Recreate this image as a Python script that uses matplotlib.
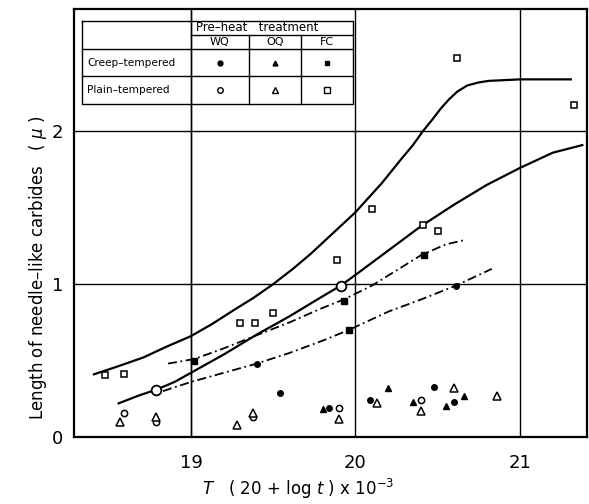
import matplotlib.pyplot as plt

# measured points, x = T(20+log t)x10^-3, y = length (micron)
creep_wq_x = [19.40, 19.54, 19.84, 20.09, 20.48, 20.60, 20.61]
creep_wq_y = [0.48, 0.29, 0.19, 0.24, 0.33, 0.23, 0.99]
creep_oq_x = [19.80, 20.20, 20.35, 20.55, 20.66]
creep_oq_y = [0.18, 0.32, 0.23, 0.20, 0.27]
creep_fc_x = [19.02, 19.93, 19.96, 20.42]
creep_fc_y = [0.50, 0.89, 0.70, 1.19]

plain_wq_x = [18.59, 18.79, 19.38, 19.90, 20.40]
plain_wq_y = [0.16, 0.10, 0.13, 0.19, 0.24]
plain_wq_big_x = [18.79, 19.91]
plain_wq_big_y = [0.31, 0.99]
plain_oq_x = [18.57, 18.79, 19.28, 19.38, 19.90, 20.13, 20.40, 20.60, 20.86]
plain_oq_y = [0.10, 0.13, 0.08, 0.16, 0.12, 0.22, 0.17, 0.32, 0.27]
plain_fc_x = [18.48, 18.59, 19.30, 19.39, 19.50, 19.89, 20.10, 20.41, 20.50, 20.62, 21.33]
plain_fc_y = [0.405, 0.41, 0.745, 0.745, 0.81, 1.16, 1.49, 1.39, 1.35, 2.48, 2.17]

# hand-faired curves
upper_solid_x = [18.41, 18.55, 18.71, 18.85, 19.00, 19.13, 19.26, 19.38, 19.50, 19.62,
                 19.73, 19.86, 20.00, 20.16, 20.28, 20.35, 20.41, 20.47, 20.52, 20.57,
                 20.62, 20.68, 20.75, 20.81, 21.00, 21.31]
upper_solid_y = [0.41, 0.46, 0.52, 0.59, 0.66, 0.74, 0.83, 0.91, 1.00, 1.10,
                 1.20, 1.33, 1.47, 1.66, 1.82, 1.91, 2.00, 2.08, 2.15, 2.21,
                 2.26, 2.30, 2.32, 2.33, 2.34, 2.34]
lower_solid_x = [18.56, 18.68, 18.79, 18.90, 19.00, 19.20, 19.40, 19.60, 19.80, 19.91,
                 20.00, 20.20, 20.40, 20.60, 20.80, 21.00, 21.20, 21.38]
lower_solid_y = [0.22, 0.27, 0.31, 0.36, 0.42, 0.54, 0.67, 0.79, 0.92, 0.99,
                 1.06, 1.22, 1.38, 1.52, 1.65, 1.76, 1.86, 1.91]
upper_dd_x = [18.86, 19.02, 19.20, 19.41, 19.60, 19.79, 19.93, 20.10, 20.25, 20.40, 20.55, 20.67]
upper_dd_y = [0.48, 0.51, 0.58, 0.67, 0.75, 0.84, 0.90, 0.99, 1.09, 1.19, 1.26, 1.29]
lower_dd_x = [18.83, 19.00, 19.20, 19.40, 19.60, 19.80, 19.96, 20.20, 20.40, 20.61, 20.83]
lower_dd_y = [0.30, 0.36, 0.42, 0.48, 0.55, 0.63, 0.70, 0.82, 0.90, 0.99, 1.10]

x_ticks = [19, 20, 21]
y_ticks = [0, 1, 2]

plt.rcParams['font.family'] = 'DejaVu Sans'
fig = plt.figure(figsize=(5.89, 5.04), dpi=100)
ax = fig.add_axes([0.126, 0.133, 0.871, 0.849])
ax.set_xlim(18.29, 21.41)
ax.set_ylim(0, 2.80)

for gx in x_ticks:
    ax.axvline(gx, color='black', lw=1.0, zorder=1)
for gy in y_ticks[1:]:
    ax.axhline(gy, color='black', lw=1.0, zorder=1)

dd = (0, (5, 2, 1, 2))
ax.plot(upper_solid_x, upper_solid_y, color='black', lw=1.6)
ax.plot(lower_solid_x, lower_solid_y, color='black', lw=1.6)
ax.plot(upper_dd_x, upper_dd_y, color='black', lw=1.3, linestyle=dd)
ax.plot(lower_dd_x, lower_dd_y, color='black', lw=1.3, linestyle=dd)

kw = dict(linestyle='none', color='black', zorder=3)
ax.plot(creep_wq_x, creep_wq_y, marker='o', ms=4, **kw)
ax.plot(creep_oq_x, creep_oq_y, marker='^', ms=4.5, **kw)
ax.plot(creep_fc_x, creep_fc_y, marker='s', ms=4, **kw)
ax.plot(plain_wq_x, plain_wq_y, marker='o', ms=4.5, mfc='white', mew=1.1, **kw)
ax.plot(plain_wq_big_x, plain_wq_big_y, marker='o', ms=7, mfc='white', mew=1.3, **kw)
ax.plot(plain_oq_x, plain_oq_y, marker='^', ms=6, mfc='white', mew=1.1, **kw)
ax.plot(plain_fc_x, plain_fc_y, marker='s', ms=5, mfc='white', mew=1.1, **kw)

# key table in the upper left corner
tl, tr = 18.34, 19.985
c1, c2, c3 = 19.0, 19.35, 19.67
r0, r1, r2, r3, r4 = 2.725, 2.63, 2.54, 2.36, 2.18
lk = dict(color='black', lw=1.0, zorder=4)
ax.fill_between([tl, tr], r4, r0, color='white', zorder=2)
ax.plot([tl, tr, tr, tl, tl], [r0, r0, r4, r4, r0], **lk)
ax.plot([c1, tr], [r1, r1], **lk)
ax.plot([tl, tr], [r2, r2], **lk)
ax.plot([tl, tr], [r3, r3], **lk)
for cx in (c1, c2, c3):
    ax.plot([cx, cx], [r1 if cx != c1 else r0, r4], **lk)
ax.axvline(19, color='black', lw=1.0, zorder=4)

ax.text(c1 + 0.03, (r0 + r1) / 2, 'Pre\u2013heat   treatment', fontsize=8.5,
        va='center', ha='left')
cols = [(c1 + c2) / 2, (c2 + c3) / 2, (c3 + tr) / 2]
for cx, lab in zip(cols, ['WQ', 'OQ', 'FC']):
    ax.text(cx, (r1 + r2) / 2, lab, fontsize=8, va='center', ha='center')
ax.text(tl + 0.03, (r2 + r3) / 2, 'Creep\u2013tempered', fontsize=7.6, va='center', ha='left')
ax.text(tl + 0.03, (r3 + r4) / 2, 'Plain\u2013tempered', fontsize=7.6, va='center', ha='left')
for cx, m in zip(cols, ['o', '^', 's']):
    ax.plot(cx, (r2 + r3) / 2, marker=m, ms=3.5, color='black', zorder=5)
    ax.plot(cx, (r3 + r4) / 2, marker=m, ms=4, mfc='white', mew=1.0, color='black', zorder=5)

for sp in ax.spines.values():
    sp.set_linewidth(1.6)
ax.set_xticks(x_ticks)
ax.set_yticks(y_ticks)
ax.tick_params(length=0, labelsize=13, pad=8)
ax.tick_params(axis='x', pad=12)
ax.set_ylabel('Length of needle\u2013like carbides   ( $\\mu$ )', fontsize=12)
ax.yaxis.set_label_coords(-0.05, 0.395)
ax.set_xlabel('$T$   ( 20 + log $t$ ) x 10$^{-3}$', fontsize=12)
ax.xaxis.set_label_coords(0.437, -0.093)

fig.savefig('out.png', dpi=100)
